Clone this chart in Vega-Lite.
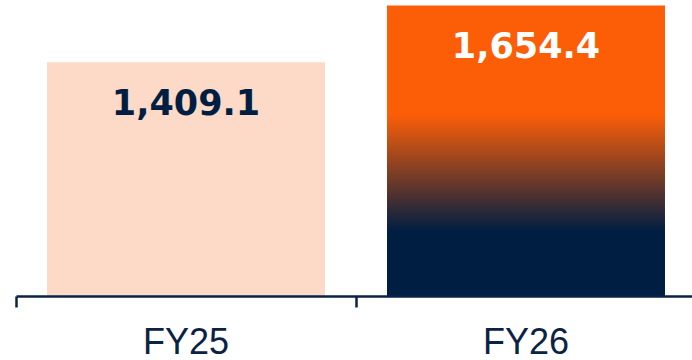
{
  "$schema": "https://vega.github.io/schema/vega-lite/v6.json",
  "width": 680,
  "height": 296,
  "autosize": {"type": "none"},
  "padding": {"left": 16, "top": 0, "right": 0, "bottom": 64},
  "background": "#ffffff",
  "config": {"view": {"stroke": null}},
  "data": {"values": [
    {"year": "FY25", "value": 1409.1},
    {"year": "FY26", "value": 1654.4}
  ]},
  "encoding": {
    "x": {
      "field": "year", "type": "nominal", "sort": null,
      "scale": {"paddingInner": 0.1824, "paddingOuter": 0.0912},
      "axis": {
        "title": null, "labelAngle": 0, "bandPosition": -0.1115,
        "domainColor": "#0B2244", "domainWidth": 2.5,
        "tickColor": "#0B2244", "tickWidth": 2.5, "tickSize": 11,
        "labelFont": "Liberation Sans", "labelFontSize": 36, "labelColor": "#0B2244",
        "labelBaseline": "alphabetic", "labelPadding": 46, "zindex": 1
      }
    },
    "y": {
      "field": "value", "type": "quantitative",
      "scale": {"domain": [400, 1678], "zero": false, "nice": false, "clamp": true},
      "axis": null
    }
  },
  "layer": [
    {
      "mark": {"type": "bar", "clip": true},
      "encoding": {
        "color": {
          "condition": {
            "test": "datum.year === 'FY26'",
            "value": {
              "gradient": "linear", "x1": 0, "y1": 0, "x2": 0, "y2": 1,
              "stops": [
                {"offset": 0, "color": "#FC5E07"},
                {"offset": 0.375, "color": "#FC5E07"},
                {"offset": 0.777, "color": "#001E42"},
                {"offset": 1, "color": "#001E42"}
              ]
            }
          },
          "value": "#FDDAC8"
        }
      }
    },
    {
      "mark": {"type": "text", "font": "DejaVu Sans", "fontWeight": "bold", "fontSize": 35, "baseline": "alphabetic", "align": "center", "dy": 53},
      "encoding": {
        "text": {"field": "value", "type": "quantitative", "format": ",.1f"},
        "color": {
          "condition": {"test": "datum.year === 'FY26'", "value": "#FFFFFF"},
          "value": "#001E42"
        }
      }
    }
  ]
}
